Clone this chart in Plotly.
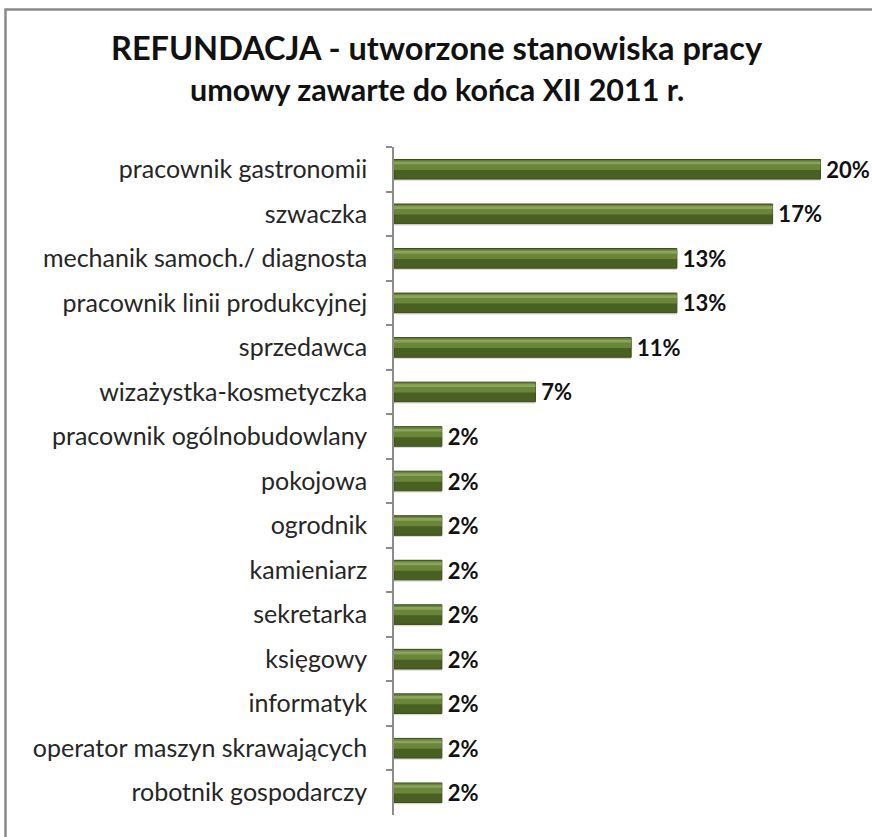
import plotly.graph_objects as go

categories = [
    "pracownik gastronomii", "szwaczka", "mechanik samoch./ diagnosta",
    "pracownik linii produkcyjnej", "sprzedawca", "wizażystka-kosmetyczka",
    "pracownik ogólnobudowlany", "pokojowa", "ogrodnik", "kamieniarz",
    "sekretarka", "księgowy", "informatyk", "operator maszyn skrawających",
    "robotnik gospodarczy",
]
values = [19.6, 17.4, 13.0, 13.0, 10.9, 6.5, 2.2, 2.2, 2.2, 2.2, 2.2, 2.2, 2.2, 2.2, 2.2]
value_labels = ["20%", "17%", "13%", "13%", "11%", "7%", "2%", "2%", "2%", "2%",
                "2%", "2%", "2%", "2%", "2%"]

title_text = "REFUNDACJA - utworzone stanowiska pracy"
subtitle_text = "umowy zawarte do końca XII 2011 r."

W, H = 872, 837
ML, MR, MT, MB = 394, 12, 147, 22
PW, PH = W - ML - MR, H - MT - MB
PX_PER_PCT = 21.76
FONT = "Lato"

def px_x(px):
    return (px - ML) / PW

def px_y(py):
    return (H - MB - py) / PH

fig = go.Figure()
common = dict(y=categories, x=values, orientation="h", hoverinfo="skip", showlegend=False)
# soft shadow under each bar
fig.add_trace(go.Bar(**common, width=0.44, offset=-0.18,
                     marker=dict(color="#d9d9d9", line=dict(width=0))))
# main bar body (dark lower part)
fig.add_trace(go.Bar(**common, width=0.44, offset=-0.22,
                     marker=dict(color="#4A5F22", line=dict(color="#3B4C1B", width=1)),
                     text=value_labels, texttemplate="\u2009%{text}",
                     textposition="outside", cliponaxis=False, constraintext="none",
                     textfont=dict(family=FONT, size=22, color="#111111", weight="bold")))
# lighter upper band
fig.add_trace(go.Bar(**common, width=0.22, offset=-0.205,
                     marker=dict(color="#6A863A", line=dict(width=0))))
# thin highlight line near the top
fig.add_trace(go.Bar(**common, width=0.06, offset=-0.17,
                     marker=dict(color="#8AA55A", line=dict(width=0))))

fig.update_layout(
    width=W, height=H,
    margin=dict(l=ML, r=MR, t=MT, b=MB, autoexpand=False),
    paper_bgcolor="white", plot_bgcolor="white",
    barmode="overlay",
    font=dict(family=FONT, color="#222222"),
    xaxis=dict(range=[0, PW / PX_PER_PCT], visible=False, showgrid=False, zeroline=False),
    yaxis=dict(
        autorange="reversed", showline=True, linecolor="#8c8c8c", linewidth=1.5,
        ticks="outside", ticklen=6, tickcolor="#8c8c8c", tickwidth=1.5,
        tickson="boundaries", showgrid=False, ticklabelstandoff=20, automargin=False,
        tickfont=dict(family=FONT, size=25, color="#262626"),
    ),
    annotations=[
        dict(text=title_text, x=px_x(437), y=px_y(47), xref="paper", yref="paper",
             showarrow=False, xanchor="center", yanchor="middle",
             font=dict(family=FONT, size=32.5, color="#111111", weight="bold")),
        dict(text=subtitle_text, x=px_x(437), y=px_y(89), xref="paper", yref="paper",
             showarrow=False, xanchor="center", yanchor="middle",
             font=dict(family=FONT, size=30.5, color="#111111", weight="bold")),
    ],
    shapes=[
        dict(type="rect", xref="paper", yref="paper",
             x0=px_x(5.5), x1=px_x(W + 20), y0=px_y(H + 20), y1=px_y(9.5),
             line=dict(color="#8a8a8a", width=2.5), layer="below"),
    ],
)

fig.write_html("out.html", config={"displayModeBar": False},
               post_script="document.body.style.margin='0';document.body.style.overflow='hidden';")
